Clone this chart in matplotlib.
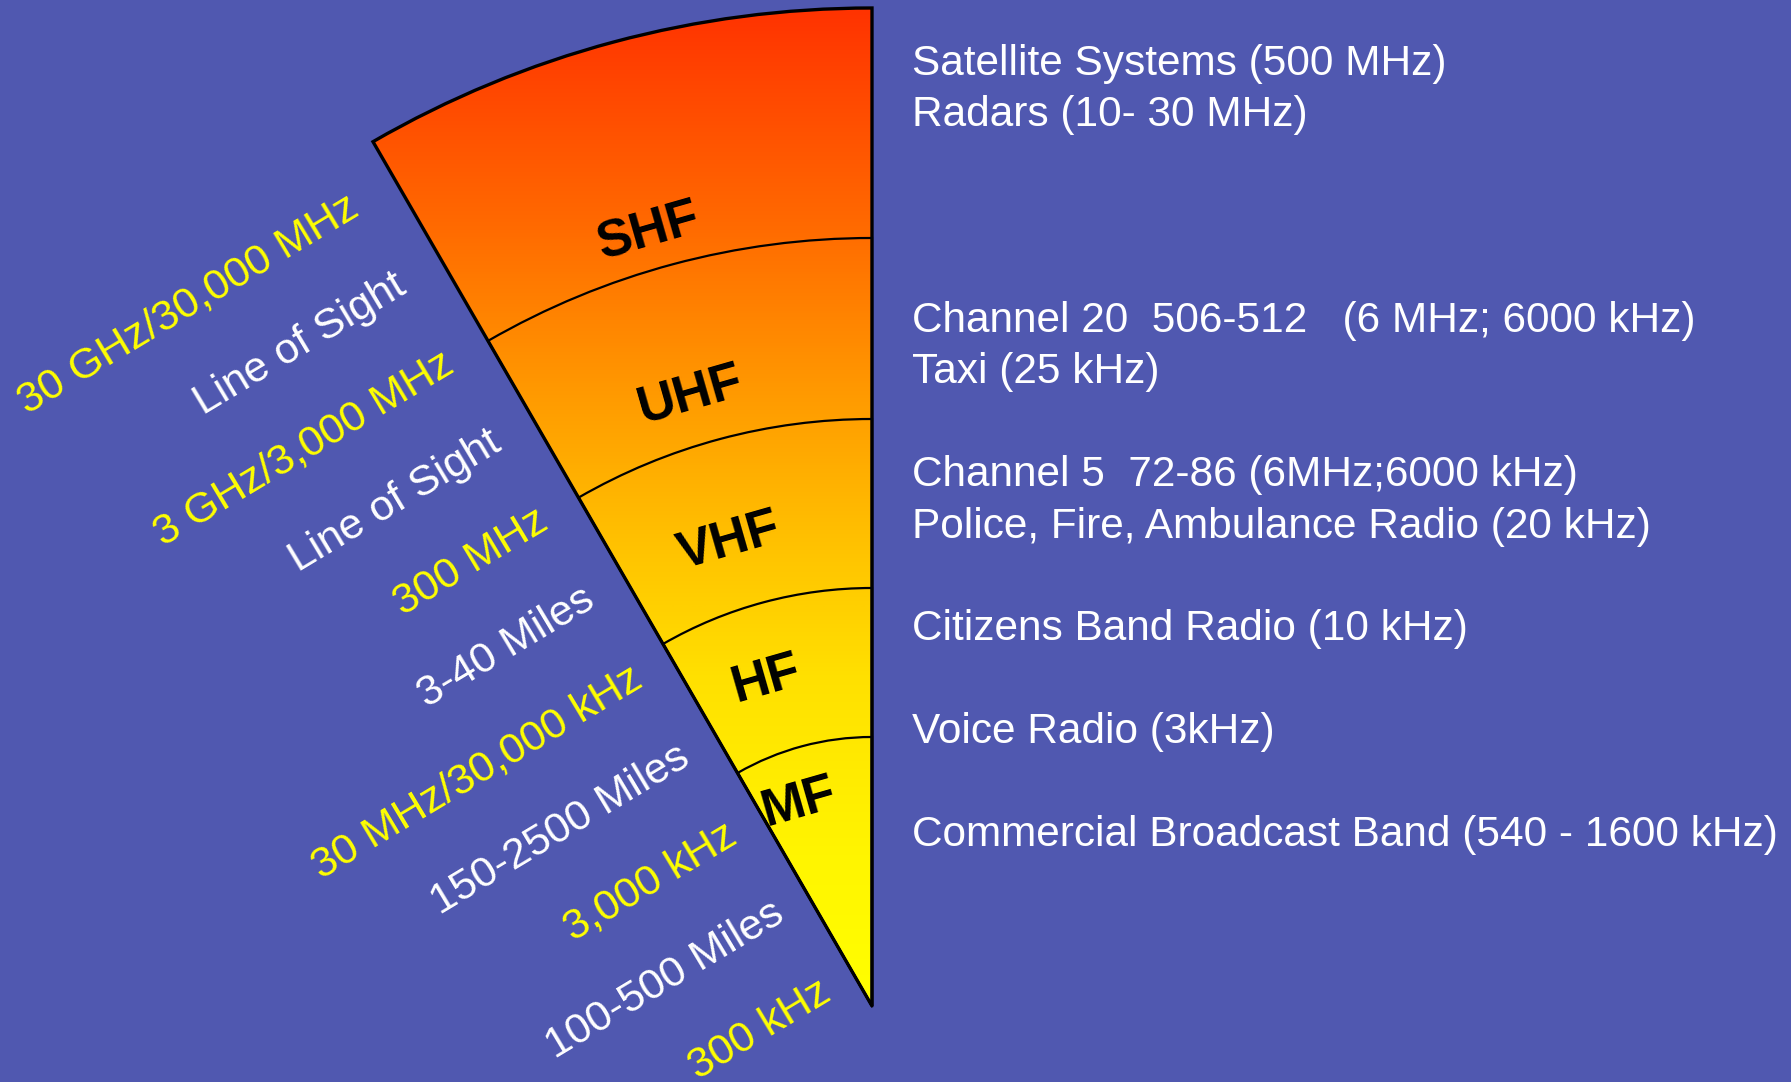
import numpy as np
import matplotlib
matplotlib.use("Agg")
import matplotlib.pyplot as plt
from matplotlib.patches import Wedge
from matplotlib.colors import LinearSegmentedColormap

# ---- data -------------------------------------------------------------
bands = ["MF", "HF", "VHF", "UHF", "SHF"]
band_outer = [269, 418, 587, 768, 998]          # outer radius of each band

edge_labels = ["30 GHz/30,000 MHz", "Line of Sight", "3 GHz/3,000 MHz",
               "Line of Sight", "300 MHz", "3-40 Miles", "30 MHz/30,000 kHz",
               "150-2500 Miles", "3,000 kHz", "100-500 Miles", "300 kHz"]
edge_is_freq = [True, False, True, False, True, False, True, False, True, False, True]

uses = ["Satellite Systems (500 MHz)",
        "Radars (10- 30 MHz)",
        "Channel 20  506-512   (6 MHz; 6000 kHz)",
        "Taxi (25 kHz)",
        "Channel 5  72-86 (6MHz;6000 kHz)",
        "Police, Fire, Ambulance Radio (20 kHz)",
        "Citizens Band Radio (10 kHz)",
        "Voice Radio (3kHz)",
        "Commercial Broadcast Band (540 - 1600 kHz)"]
use_rows = [0, 1, 5, 6, 8, 9, 11, 13, 15]

# ---- layout -----------------------------------------------------------
W, H = 1791, 1082
BG = "#5058B0"
FONT = "Liberation Sans"
apex = np.array([872.0, 76.0])
span = (90.0, 120.0)
band_label_r = [222, 349, 492, 644, 811]
band_label_a = [20.7, 18.6, 17.6, 16.9, 16.4]   # degrees left of vertical
band_label_shift = np.array([5.5, -4.5])

# gradient stops from the apex (0) to the outer rim (1)
grad_stops = [(0.0, "#FFFF00"), (0.15, "#FFF500"), (0.33, "#FFE000"),
              (0.47, "#FFC000"), (0.62, "#FF9800"), (0.79, "#FF6800"),
              (1.0, "#FF3300")]

fig = plt.figure(figsize=(W / 100, H / 100), dpi=100)
fig.patch.set_facecolor(BG)
ax = fig.add_axes([0, 0, 1, 1])
ax.set_xlim(0, W)
ax.set_ylim(0, H)
ax.axis("off")
ax.set_facecolor(BG)

R = band_outer[-1]
outline = Wedge(apex, R, span[0], span[1], facecolor="none",
                edgecolor="black", lw=2.4, zorder=4, joinstyle="miter")
ax.add_patch(outline)

# vertical yellow -> red-orange gradient clipped to the fan
cmap = LinearSegmentedColormap.from_list("fan", grad_stops)
grad = np.linspace(0, 1, 512).reshape(-1, 1)
img = ax.imshow(grad, cmap=cmap, origin="lower", aspect="auto",
                extent=[apex[0] - R * 0.5 - 5, apex[0] + 5, apex[1], apex[1] + R],
                interpolation="bilinear", zorder=1)
clip = Wedge(apex, R, span[0], span[1], transform=ax.transData)
img.set_clip_path(clip)

# band boundaries
for r in band_outer[:-1]:
    ax.add_patch(Wedge(apex, r, span[0], span[1], width=r - 0.01,
                       facecolor="none", edgecolor="black", lw=1.6, zorder=3))

# band names
for name, r, a in zip(bands, band_label_r, band_label_a):
    t = np.radians(a)
    x = apex[0] - r * np.sin(t) + band_label_shift[0]
    y = apex[1] + r * np.cos(t) + band_label_shift[1]
    ax.text(x, y, name, fontsize=37.5, fontweight="bold", family=FONT,
            color="black", rotation=16, ha="center", va="center",
            rotation_mode="anchor", zorder=5)

# labels along the left edge of the fan
rot = 31.0
step = 91.6
d = np.array([np.sin(np.radians(rot)), -np.cos(np.radians(rot))])
start = np.array([355.7, 877.7])
for i, (lab, freq) in enumerate(zip(edge_labels, edge_is_freq)):
    p = start + i * step * d
    ax.text(p[0], p[1], lab, fontsize=31, family=FONT,
            color="#FFFF00" if freq else "white", rotation=rot,
            ha="right", va="center", rotation_mode="anchor", zorder=5)

# uses of each band on the right
for txt, row in zip(uses, use_rows):
    y = H - (64.0 + row * 51.4)
    ax.text(912, y, txt, fontsize=30.5, family=FONT, color="white",
            ha="left", va="center", zorder=5)

fig.savefig("out.png", dpi=100, facecolor=BG)
